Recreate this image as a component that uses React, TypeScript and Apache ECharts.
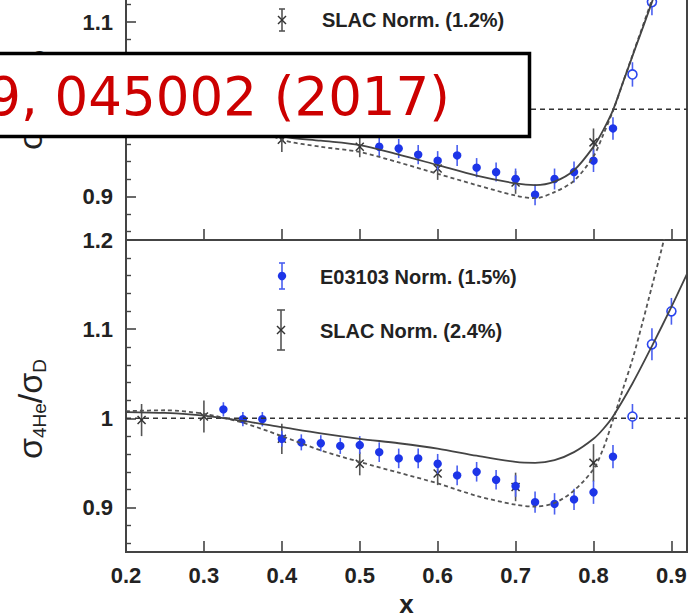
import React, { useEffect, useRef } from "react";
import * as echarts from "echarts";

const X_MIN = 0.2;
const X_MAX = 0.92;
const Y_MIN = 0.85;
const Y_MAX = 1.2;
const REF_LEVEL = 1.0;

// ---------- upper panel (cropped) ----------
const upE03103X = [0.525, 0.55, 0.575, 0.6, 0.625, 0.65, 0.675, 0.7, 0.725, 0.75, 0.775, 0.8, 0.825];
const upE03103Y = [0.957, 0.955, 0.948, 0.941, 0.947, 0.933, 0.928, 0.92, 0.902, 0.92, 0.928, 0.941, 0.978];
const upE03103Err = [0.011, 0.011, 0.011, 0.011, 0.012, 0.011, 0.011, 0.012, 0.012, 0.012, 0.012, 0.013, 0.013];
const upOpenX = [0.85, 0.875];
const upOpenY = [1.04, 1.123];
const upOpenErr = [0.014, 0.015];
const upSlacX = [0.4, 0.5, 0.6, 0.7, 0.8];
const upSlacY = [0.965, 0.957, 0.932, 0.916, 0.962];
const upSlacErr = [0.014, 0.012, 0.013, 0.013, 0.016];
const upCurveX = [0.2, 0.25, 0.3, 0.35, 0.4, 0.45, 0.5, 0.55, 0.6, 0.65, 0.7, 0.725, 0.75, 0.775, 0.8, 0.8125, 0.825, 0.8375, 0.85, 0.875, 0.9];
const upSolidY = [1.012, 1.006, 0.996, 0.983, 0.969, 0.964, 0.959, 0.948, 0.936, 0.924, 0.915, 0.913, 0.917, 0.93, 0.957, 0.976, 0.999, 1.03, 1.061, 1.123, 1.19];
const upDashedY = [1.012, 1.01, 1.0, 0.985, 0.965, 0.957, 0.951, 0.939, 0.926, 0.913, 0.901, 0.898, 0.905, 0.918, 0.946, 0.971, 0.998, 1.03, 1.062, 1.126, 1.196];

// ---------- lower panel (4He) ----------
const heE03103X = [0.325, 0.35, 0.375, 0.4, 0.425, 0.45, 0.475, 0.5, 0.525, 0.55, 0.575, 0.6, 0.625, 0.65, 0.675, 0.7, 0.725, 0.75, 0.775, 0.8, 0.825];
const heE03103Y = [1.01, 0.999, 0.999, 0.977, 0.973, 0.972, 0.969, 0.97, 0.962, 0.955, 0.955, 0.949, 0.936, 0.94, 0.931, 0.924, 0.906, 0.904, 0.909, 0.917, 0.957];
const heE03103Err = [0.008, 0.008, 0.008, 0.009, 0.009, 0.009, 0.009, 0.01, 0.011, 0.011, 0.011, 0.011, 0.011, 0.011, 0.011, 0.012, 0.012, 0.012, 0.012, 0.013, 0.013];
const heOpenX = [0.85, 0.875, 0.9];
const heOpenY = [1.002, 1.083, 1.12];
const heOpenErr = [0.014, 0.018, 0.015];
const heSlacX = [0.22, 0.3, 0.4, 0.5, 0.6, 0.7, 0.8];
const heSlacY = [0.998, 1.002, 0.977, 0.949, 0.938, 0.923, 0.95];
const heSlacErr = [0.018, 0.018, 0.017, 0.013, 0.013, 0.016, 0.021];
const heSolidX = [0.2, 0.25, 0.3, 0.35, 0.4, 0.45, 0.5, 0.55, 0.6, 0.65, 0.7, 0.725, 0.75, 0.775, 0.8, 0.8125, 0.825, 0.85, 0.875, 0.9, 0.92];
const heSolidY = [1.007, 1.006, 1.003, 0.997, 0.99, 0.983, 0.977, 0.972, 0.966, 0.958, 0.951, 0.95, 0.953, 0.962, 0.977, 0.988, 1.002, 1.039, 1.081, 1.125, 1.162];
const heDashedX = [0.2, 0.25, 0.3, 0.35, 0.4, 0.45, 0.5, 0.55, 0.6, 0.65, 0.7, 0.725, 0.75, 0.775, 0.8, 0.8125, 0.825, 0.8375, 0.85, 0.8625, 0.875, 0.8875, 0.9];
const heDashedY = [1.008, 1.009, 1.005, 0.995, 0.98, 0.964, 0.951, 0.939, 0.927, 0.913, 0.903, 0.901, 0.905, 0.919, 0.943, 0.966, 0.998, 1.032, 1.066, 1.106, 1.148, 1.19, 1.235];

const LEGEND_LOWER = ["E03103 Norm. (1.5%)", "SLAC Norm. (2.4%)"];
const LEGEND_UPPER = ["SLAC Norm. (1.2%)"];
const CITATION = "9, 045002 (2017)";
const X_NAME = "x";

const FONT = "'Liberation Sans', Arial, Helvetica, sans-serif";
const BLUE = "#1d35e8";
const BLUE_BAR = "#4a5ff0";
const DARK = "#333";

const zip3 = (a: number[], b: number[], c: number[]) => a.map((v, i) => [v, b[i], c[i]]);
const zip2 = (a: number[], b: number[]) => a.map((v, i) => [v, b[i]]);

const makeRender = (kind: "dot" | "open" | "slac") => (params: any, api: any) => {
  const x = api.value(0);
  const y = api.value(1);
  const e = api.value(2);
  const c = api.coord([x, y]);
  const lo = api.coord([x, y - e]);
  const hi = api.coord([x, y + e]);
  const children: any[] = [
    {
      type: "line",
      shape: { x1: c[0], y1: lo[1], x2: c[0], y2: hi[1] },
      style: { stroke: kind === "slac" ? "#555" : BLUE_BAR, lineWidth: 1.6 },
    },
  ];
  if (kind === "dot") {
    children.push({ type: "circle", shape: { cx: c[0], cy: c[1], r: 4.2 }, style: { fill: BLUE } });
  } else if (kind === "open") {
    children.push({
      type: "circle",
      shape: { cx: c[0], cy: c[1], r: 4.5 },
      style: { fill: "#fff", stroke: "#2a45ee", lineWidth: 1.6 },
    });
  } else {
    const s = 4;
    children.push({ type: "line", shape: { x1: c[0] - s, y1: c[1] - s, x2: c[0] + s, y2: c[1] + s }, style: { stroke: DARK, lineWidth: 1.5 } });
    children.push({ type: "line", shape: { x1: c[0] - s, y1: c[1] + s, x2: c[0] + s, y2: c[1] - s }, style: { stroke: DARK, lineWidth: 1.5 } });
  }
  return { type: "group", children };
};

const labelFmt = (v: number) => {
  const t = v * 10;
  return Math.abs(t - Math.round(t)) < 1e-6 ? String(Math.round(t) / 10) : "";
};
const xLabelFmt = (v: number) => {
  const t = v * 10;
  return Math.abs(t - Math.round(t)) < 1e-6 ? (Math.round(t) / 10).toFixed(1) : "";
};

const panelSeries = (
  idx: number,
  dots: number[][],
  opens: number[][],
  slac: number[][],
  solid: number[][],
  dashed: number[][]
) => [
  {
    type: "line",
    xAxisIndex: idx,
    yAxisIndex: idx,
    data: [
      [X_MIN, REF_LEVEL],
      [X_MAX, REF_LEVEL],
    ],
    symbol: "none",
    lineStyle: { color: "#333", width: 1.6, type: [5, 4] },
    silent: true,
  },
  {
    type: "line",
    xAxisIndex: idx,
    yAxisIndex: idx,
    data: dashed,
    smooth: 0.3,
    symbol: "none",
    clip: true,
    lineStyle: { color: "#555", width: 1.8, type: [4, 3] },
    silent: true,
  },
  {
    type: "line",
    xAxisIndex: idx,
    yAxisIndex: idx,
    data: solid,
    smooth: 0.3,
    symbol: "none",
    clip: true,
    lineStyle: { color: "#444", width: 1.8 },
    silent: true,
  },
  { type: "custom", xAxisIndex: idx, yAxisIndex: idx, data: slac, renderItem: makeRender("slac"), clip: true, encode: { x: 0, y: 1 } },
  { type: "custom", xAxisIndex: idx, yAxisIndex: idx, data: dots, renderItem: makeRender("dot"), clip: true, encode: { x: 0, y: 1 } },
  { type: "custom", xAxisIndex: idx, yAxisIndex: idx, data: opens, renderItem: makeRender("open"), clip: true, encode: { x: 0, y: 1 } },
];

const xAxisCfg = (idx: number, showLabels: boolean) => ({
  type: "value",
  gridIndex: idx,
  min: X_MIN,
  max: X_MAX,
  interval: 0.1,
  axisLine: { show: false },
  splitLine: { show: false },
  axisTick: { inside: true, length: 11, lineStyle: { color: "#444", width: 1.6 } },
  axisLabel: {
    show: showLabels,
    formatter: xLabelFmt,
    fontSize: 22,
    fontWeight: "bold",
    fontFamily: FONT,
    color: "#222",
    margin: 12,
  },
  name: showLabels ? X_NAME : "",
  nameLocation: "middle",
  nameGap: 33,
  nameTextStyle: { fontSize: 26, fontWeight: "bold", fontFamily: FONT, color: "#222" },
});

const yAxisCfg = (idx: number) => ({
  type: "value",
  gridIndex: idx,
  min: Y_MIN,
  max: Y_MAX,
  splitNumber: 4,
  minInterval: 0.1,
  maxInterval: 0.1,
  axisLine: { show: false },
  splitLine: { show: false },
  axisTick: { inside: true, length: 10, lineStyle: { color: "#444", width: 1.6 } },
  minorTick: { show: true, splitNumber: 5, length: 5, lineStyle: { color: "#444", width: 1.4 } },
  axisLabel: {
    formatter: labelFmt,
    fontSize: 22,
    fontWeight: "bold",
    fontFamily: FONT,
    color: "#222",
    margin: 13,
  },
});

const errLegend = (cx: number, cy: number, half: number, cap: number, kind: "dot" | "slac") => {
  const col = kind === "dot" ? BLUE_BAR : "#555";
  const els: any[] = [
    { type: "line", shape: { x1: cx, y1: cy - half, x2: cx, y2: cy + half }, style: { stroke: col, lineWidth: 1.6 }, z: 50 },
    { type: "line", shape: { x1: cx - cap, y1: cy - half, x2: cx + cap, y2: cy - half }, style: { stroke: col, lineWidth: 1.6 }, z: 50 },
    { type: "line", shape: { x1: cx - cap, y1: cy + half, x2: cx + cap, y2: cy + half }, style: { stroke: col, lineWidth: 1.6 }, z: 50 },
  ];
  if (kind === "dot") {
    els.push({ type: "circle", shape: { cx, cy, r: 4.2 }, style: { fill: BLUE }, z: 51 });
  } else {
    const s = 4;
    els.push({ type: "line", shape: { x1: cx - s, y1: cy - s, x2: cx + s, y2: cy + s }, style: { stroke: DARK, lineWidth: 1.5 }, z: 51 });
    els.push({ type: "line", shape: { x1: cx - s, y1: cy + s, x2: cx + s, y2: cy - s }, style: { stroke: DARK, lineWidth: 1.5 }, z: 51 });
  }
  return els;
};

const legendText = (x: number, y: number, text: string) => ({
  type: "text",
  x,
  y,
  z: 50,
  style: { text, fill: "#222", fontSize: 20, fontWeight: "bold", fontFamily: FONT, align: "left", verticalAlign: "middle" },
});

const yName = (cy: number) => ({
  type: "text",
  x: 30,
  y: cy,
  rotation: Math.PI / 2,
  z: 40,
  style: {
    text: "{s|σ}{sub|4He}{s|/σ}{sub|D}",
    align: "center",
    verticalAlign: "middle",
    fill: "#222",
    rich: {
      s: { fontSize: 34, lineHeight: 38, fontFamily: FONT, fill: "#222" },
      sub: { fontSize: 19, lineHeight: 19, verticalAlign: "bottom", fontFamily: FONT, fill: "#222" },
    },
  },
});

export default function App() {
  const ref = useRef<HTMLDivElement>(null);
  useEffect(() => {
    const chart = echarts.init(ref.current as HTMLDivElement, null, { renderer: "svg" });
    const option: any = {
      animation: false,
      backgroundColor: "#fff",
      grid: [
        {
          left: 126, right: 2, top: -65, bottom: 374, show: true, borderColor: "#444", borderWidth: 2,
          backgroundColor: "transparent", containLabel: false, outerBoundsMode: "none",
        },
        {
          left: 126, right: 2, top: 240, bottom: 62, show: true, borderColor: "#444", borderWidth: 2,
          backgroundColor: "transparent", containLabel: false, outerBoundsMode: "none",
        },
      ],
      xAxis: [xAxisCfg(0, false), xAxisCfg(1, true)],
      yAxis: [yAxisCfg(0), yAxisCfg(1)],
      series: [
        ...panelSeries(
          0,
          zip3(upE03103X, upE03103Y, upE03103Err),
          zip3(upOpenX, upOpenY, upOpenErr),
          zip3(upSlacX, upSlacY, upSlacErr),
          zip2(upCurveX, upSolidY),
          zip2(upCurveX, upDashedY)
        ),
        ...panelSeries(
          1,
          zip3(heE03103X, heE03103Y, heE03103Err),
          zip3(heOpenX, heOpenY, heOpenErr),
          zip3(heSlacX, heSlacY, heSlacErr),
          zip2(heSolidX, heSolidY),
          zip2(heDashedX, heDashedY)
        ),
      ],
      graphic: [
        ...errLegend(282, 20, 11, 3, "slac"),
        legendText(322, 20, LEGEND_UPPER[0]),
        ...errLegend(282, 276, 13, 3, "dot"),
        legendText(320, 277, LEGEND_LOWER[0]),
        ...errLegend(281, 330, 20, 4, "slac"),
        legendText(320, 331, LEGEND_LOWER[1]),
        yName(409),
        yName(100),
        {
          type: "rect",
          z: 100,
          shape: { x: -10, y: 53.5, width: 539.5, height: 83 },
          style: { fill: "#fff", stroke: "#000", lineWidth: 3.5 },
        },
        {
          type: "text",
          z: 101,
          x: 450,
          y: 96,
          style: { text: CITATION, fill: "#cc0000", fontSize: 53, fontFamily: "'DejaVu Sans', sans-serif", align: "right", verticalAlign: "middle" },
        },
      ],
    };
    chart.setOption(option);
    return () => chart.dispose();
  }, []);
  return <div ref={ref} style={{ position: "fixed", left: 0, top: 0, width: 689, height: 614, background: "#fff" }} />;
}
